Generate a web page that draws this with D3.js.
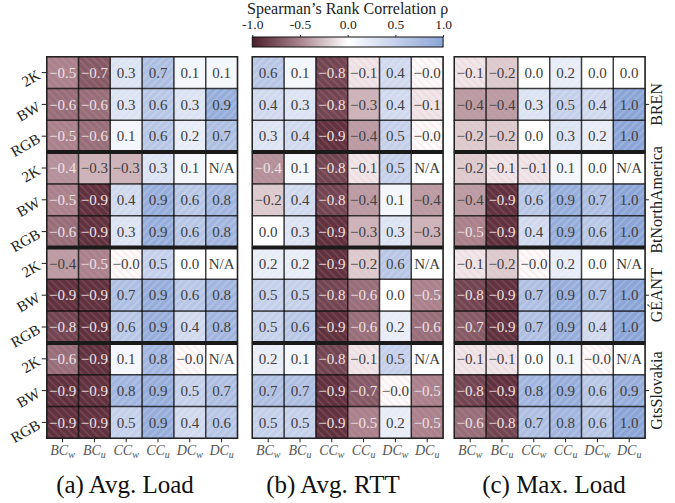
<!DOCTYPE html>
<html>
<head>
<meta charset="utf-8">
<script src="https://cdn.jsdelivr.net/npm/d3@7"></script>
<style>
  body { margin: 0; background: #fff; }
</style>
</head>
<body>
<div id="chart"></div>
<script>
(function() {
  'use strict';

  // data (null = N/A)
  var colLabels = ['BC_w', 'BC_u', 'CC_w', 'CC_u', 'DC_w', 'DC_u'];
  var rowLabels = ['2K', 'BW', 'RGB'];
  var groups = ['BREN', 'BtNorthAmerica', 'GÉANT', 'GtsSlovakia'];
  var captions = ['(a) Avg. Load', '(b) Avg. RTT', '(c) Max. Load'];
  var cbarTicks = [-1, -0.5, 0, 0.5, 1];

  var avgLoad = [
    [-0.5, -0.7, 0.3, 0.7, 0.1, 0.1],
    [-0.6, -0.6, 0.3, 0.6, 0.3, 0.9],
    [-0.5, -0.6, 0.1, 0.6, 0.2, 0.7],
    [-0.44, -0.3, -0.3, 0.3, 0.1, null],
    [-0.5, -0.9, 0.4, 0.9, 0.6, 0.8],
    [-0.6, -0.9, 0.3, 0.9, 0.6, 0.8],
    [-0.4, -0.5, -0.02, 0.5, 0.0, null],
    [-0.9, -0.9, 0.7, 0.9, 0.6, 0.8],
    [-0.8, -0.9, 0.6, 0.9, 0.4, 0.8],
    [-0.6, -0.9, 0.1, 0.8, -0.02, null],
    [-0.9, -0.9, 0.8, 0.9, 0.5, 0.7],
    [-0.9, -0.9, 0.5, 0.9, 0.4, 0.6]
  ];

  var avgRtt = [
    [0.6, 0.1, -0.8, -0.1, 0.4, -0.02],
    [0.4, 0.3, -0.8, -0.3, 0.4, -0.1],
    [0.3, 0.4, -0.9, -0.4, 0.5, -0.02],
    [-0.44, 0.1, -0.8, -0.1, 0.5, null],
    [-0.2, 0.4, -0.8, -0.4, 0.1, -0.4],
    [0.0, 0.3, -0.9, -0.3, 0.3, -0.3],
    [0.2, 0.2, -0.9, -0.2, 0.6, null],
    [0.5, 0.5, -0.8, -0.6, 0.0, -0.5],
    [0.5, 0.6, -0.9, -0.6, 0.2, -0.6],
    [0.2, 0.1, -0.8, -0.1, 0.5, null],
    [0.7, 0.7, -0.9, -0.7, -0.02, -0.5],
    [0.5, 0.5, -0.9, -0.5, 0.2, -0.5]
  ];

  var maxLoad = [
    [-0.1, -0.2, 0.0, 0.2, 0.0, 0.0],
    [-0.4, -0.4, 0.3, 0.5, 0.4, 1.0],
    [-0.2, -0.2, 0.0, 0.3, 0.2, 1.0],
    [-0.2, -0.1, -0.1, 0.1, 0.0, null],
    [-0.4, -0.9, 0.6, 0.9, 0.7, 1.0],
    [-0.5, -0.9, 0.4, 0.9, 0.6, 1.0],
    [-0.1, -0.2, -0.02, 0.2, 0.0, null],
    [-0.8, -0.9, 0.7, 0.9, 0.7, 1.0],
    [-0.7, -0.9, 0.7, 0.9, 0.4, 1.0],
    [-0.1, -0.1, 0.0, 0.1, -0.02, null],
    [-0.8, -0.9, 0.8, 0.9, 0.6, 0.9],
    [-0.6, -0.8, 0.7, 0.8, 0.6, 1.0]
  ];

  var panels = [avgLoad, avgRtt, maxLoad];

  var svgW = 675,
    svgH = 503,
    cell = 31.8,
    panelX = [46.7, 252.3, 454.3],
    panelY = 56.7,
    panelW = cell * colLabels.length,
    panelH = cell * 12,
    captionX = [125, 333, 554],
    captionY = 493;

  var serif = "'Liberation Serif', 'Times New Roman', serif";

  var svg = d3.select('#chart')
    .append('svg')
    .attr('width', svgW)
    .attr('height', svgH)
    .style('font-family', serif);

  var color = d3.scaleLinear()
    .domain([-1, -0.5, 0, 0.5, 1])
    .range(['#4b1e2c', '#a8838d', '#ffffff', '#c5d0ea', '#8ba5d7']);

  var rowKeys = [];
  groups.forEach(function(g) {
    rowLabels.forEach(function(r) {
      rowKeys.push(g + '|' + r);
    });
  });

  var y = d3.scaleBand()
    .domain(rowKeys)
    .range([panelY, panelY + panelH]);

  var yGroup = d3.scaleBand()
    .domain(groups)
    .range([panelY, panelY + panelH]);

  // hatch patterns
  var defs = svg.append('defs');
  defs.append('pattern')
    .attr('id', 'hatch-neg')
    .attr('patternUnits', 'userSpaceOnUse')
    .attr('width', 5.5)
    .attr('height', 5.5)
    .attr('patternTransform', 'rotate(-45)')
    .append('line')
    .attr('x1', 2.75).attr('y1', 0)
    .attr('x2', 2.75).attr('y2', 5.5)
    .attr('stroke', '#ff9fb3')
    .attr('stroke-opacity', 0.35)
    .attr('stroke-width', 0.8);
  defs.append('pattern')
    .attr('id', 'hatch-pos')
    .attr('patternUnits', 'userSpaceOnUse')
    .attr('width', 5.5)
    .attr('height', 5.5)
    .attr('patternTransform', 'rotate(45)')
    .append('line')
    .attr('x1', 2.75).attr('y1', 0)
    .attr('x2', 2.75).attr('y2', 5.5)
    .attr('stroke', '#ffffff')
    .attr('stroke-opacity', 0.35)
    .attr('stroke-width', 0.8);

  function fmt(v) {
    if (v === null) return 'N/A';
    return (v < 0 ? '\u2212' : '') + Math.abs(v).toFixed(1);
  }

  function subLabel(sel) {
    sel.each(function(d) {
      var parts = d.split('_');
      var t = d3.select(this).text(null);
      t.append('tspan').text(parts[0]);
      t.append('tspan')
        .attr('font-size', '10px')
        .attr('dy', '0.3em')
        .text(parts[1]);
    });
  }

  panels.forEach(function(values, p) {
    var x = d3.scaleBand()
      .domain(colLabels)
      .range([panelX[p], panelX[p] + panelW]);

    var cells = [];
    values.forEach(function(row, r) {
      row.forEach(function(v, c) {
        cells.push({ row: rowKeys[r], col: colLabels[c], v: v });
      });
    });

    var g = svg.append('g');

    g.selectAll('rect.fill')
      .data(cells)
      .enter()
      .append('rect')
      .attr('class', 'fill')
      .attr('x', function(d) { return x(d.col); })
      .attr('y', function(d) { return y(d.row); })
      .attr('width', x.bandwidth())
      .attr('height', y.bandwidth())
      .attr('fill', function(d) { return d.v === null ? '#ffffff' : color(d.v); });

    g.selectAll('rect.hatch')
      .data(cells.filter(function(d) { return d.v !== null; }))
      .enter()
      .append('rect')
      .attr('class', 'hatch')
      .attr('x', function(d) { return x(d.col); })
      .attr('y', function(d) { return y(d.row); })
      .attr('width', x.bandwidth())
      .attr('height', y.bandwidth())
      .attr('fill', function(d) { return d.v < 0 ? 'url(#hatch-neg)' : 'url(#hatch-pos)'; });

    g.selectAll('rect.edge')
      .data(cells)
      .enter()
      .append('rect')
      .attr('class', 'edge')
      .attr('x', function(d) { return x(d.col); })
      .attr('y', function(d) { return y(d.row); })
      .attr('width', x.bandwidth())
      .attr('height', y.bandwidth())
      .attr('fill', 'none')
      .attr('stroke', '#000')
      .attr('stroke-opacity', 0.5)
      .attr('stroke-width', 1.4);

    g.selectAll('text.val')
      .data(cells)
      .enter()
      .append('text')
      .attr('class', 'val')
      .attr('x', function(d) { return x(d.col) + x.bandwidth() / 2; })
      .attr('y', function(d) { return y(d.row) + y.bandwidth() / 2; })
      .attr('dy', '0.35em')
      .attr('text-anchor', 'middle')
      .style('font-family', serif)
      .style('font-size', '15px')
      .attr('fill', function(d) { return d.v !== null && d.v <= -0.42 ? '#efe2e5' : '#404040'; })
      .text(function(d) { return fmt(d.v); });

    // thick separators between topologies
    g.selectAll('line.sep')
      .data(groups.slice(1))
      .enter()
      .append('line')
      .attr('class', 'sep')
      .attr('x1', panelX[p])
      .attr('x2', panelX[p] + panelW)
      .attr('y1', function(d) { return yGroup(d); })
      .attr('y2', function(d) { return yGroup(d); })
      .attr('stroke', '#1a1a1a')
      .attr('stroke-width', 4);

    g.append('rect')
      .attr('x', panelX[p])
      .attr('y', panelY)
      .attr('width', panelW)
      .attr('height', panelH)
      .attr('fill', 'none')
      .attr('stroke', '#222')
      .attr('stroke-width', 1.4);

    // bottom axis
    var xAxis = svg.append('g')
      .attr('transform', 'translate(0,' + (panelY + panelH) + ')')
      .call(d3.axisBottom(x).tickSize(4).tickSizeOuter(0));
    xAxis.select('.domain').remove();
    xAxis.selectAll('.tick line').attr('stroke', '#222');
    xAxis.selectAll('.tick text')
      .style('font-family', serif)
      .style('font-size', '14px')
      .style('font-style', 'italic')
      .attr('fill', '#555')
      .call(subLabel);

    svg.append('text')
      .attr('x', captionX[p])
      .attr('y', captionY)
      .attr('text-anchor', 'middle')
      .style('font-family', serif)
      .style('font-size', '25px')
      .attr('fill', '#111')
      .text(captions[p]);
  });

  // left axis on first panel
  var yAxis = svg.append('g')
    .attr('transform', 'translate(' + panelX[0] + ',0)')
    .call(d3.axisLeft(y).tickSize(5).tickFormat(function(d) { return d.split('|')[1]; }));
  yAxis.select('.domain').remove();
  yAxis.selectAll('.tick line').attr('stroke', '#222');
  yAxis.selectAll('.tick text')
    .attr('x', 0)
    .attr('dy', '0.35em')
    .style('font-family', serif)
    .style('font-size', '15px')
    .attr('fill', '#222')
    .attr('text-anchor', 'end')
    .attr('transform', 'translate(-8,1) rotate(-30)');

  // right axis: topology names
  var rAxis = svg.append('g')
    .attr('transform', 'translate(' + (panelX[2] + panelW) + ',0)')
    .call(d3.axisRight(yGroup).tickSize(4));
  rAxis.select('.domain').remove();
  rAxis.selectAll('.tick line').attr('stroke', '#222');
  rAxis.selectAll('.tick text')
    .attr('x', 0)
    .attr('dy', 0)
    .style('font-family', serif)
    .style('font-size', '16px')
    .attr('fill', '#222')
    .attr('text-anchor', 'middle')
    .attr('transform', 'translate(17,0) rotate(-90)');

  // colorbar
  var cbX = d3.scaleLinear()
    .domain([-1, 1])
    .range([panelX[1], panelX[1] + panelW]);
  var cbY = 37,
    cbH = 10;

  var grad = defs.append('linearGradient')
    .attr('id', 'cbar')
    .attr('x1', '0%').attr('x2', '100%')
    .attr('y1', '0%').attr('y2', '0%');
  grad.selectAll('stop')
    .data(d3.range(0, 1.0001, 0.05))
    .enter()
    .append('stop')
    .attr('offset', function(d) { return (d * 100) + '%'; })
    .attr('stop-color', function(d) { return color(d * 2 - 1); });

  svg.append('rect')
    .attr('x', cbX(-1))
    .attr('y', cbY)
    .attr('width', cbX(1) - cbX(-1))
    .attr('height', cbH)
    .attr('fill', 'url(#cbar)')
    .attr('stroke', '#111')
    .attr('stroke-width', 1);

  var cAxis = svg.append('g')
    .attr('transform', 'translate(0,' + cbY + ')')
    .call(d3.axisTop(cbX)
      .tickValues(cbarTicks)
      .tickSize(2)
      .tickFormat(function(d) { return (d < 0 ? '-' : '') + Math.abs(d).toFixed(1); }));
  cAxis.select('.domain').remove();
  cAxis.selectAll('.tick line').attr('stroke', '#222');
  cAxis.selectAll('.tick text')
    .attr('y', -8)
    .style('font-family', serif)
    .style('font-size', '13.5px')
    .attr('fill', '#222');

  svg.append('text')
    .attr('x', cbX(0))
    .attr('y', 14)
    .attr('text-anchor', 'middle')
    .style('font-family', serif)
    .style('font-size', '16px')
    .attr('fill', '#222')
    .text('Spearman\u2019s Rank Correlation \u03c1');

}());
</script>
</body>
</html>
